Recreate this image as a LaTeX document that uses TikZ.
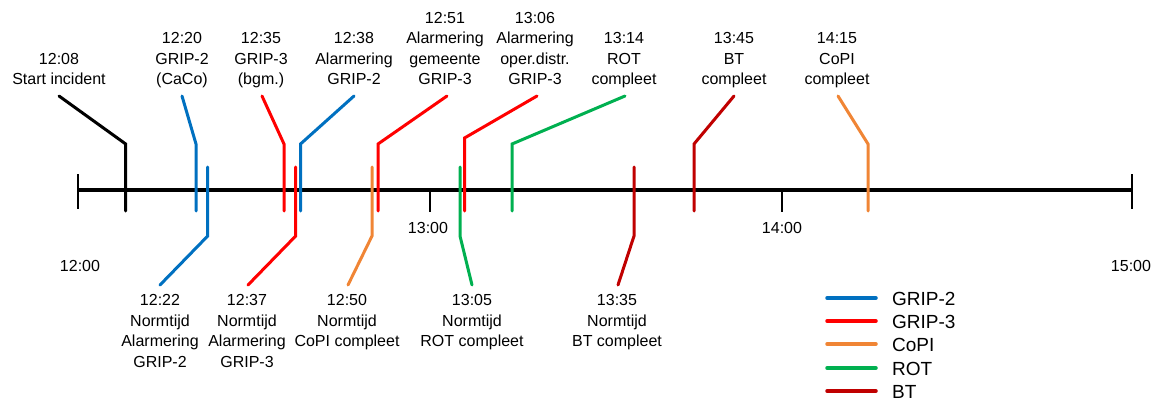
\documentclass[tikz,border=0pt]{standalone}
\usepackage{fontspec}
\setmainfont{Liberation Sans}
\definecolor{cblue}{HTML}{0070C0}
\definecolor{cred}{HTML}{FF0000}
\definecolor{corange}{HTML}{F08535}
\definecolor{cgreen}{HTML}{00B050}
\definecolor{cdark}{HTML}{C00000}
\begin{document}
\begin{tikzpicture}[x=1pt,y=-1pt,
  ev/.style={line width=3pt,line cap=round},
  lab/.style={align=center,inner sep=0pt,font=\fontsize{16}{20.5}\selectfont},
  up/.style={lab,anchor=south},
  dn/.style={lab,anchor=north},
  axlab/.style={inner sep=0pt,anchor=base,font=\fontsize{16}{20}\selectfont},
  leg/.style={inner sep=0pt,anchor=base west,font=\fontsize{19}{22}\selectfont},
  legline/.style={line width=3.5pt,line cap=round},
  thintick/.style={line width=1.5pt}]
\useasboundingbox (0,0) rectangle (1155,401);

% axis
\coordinate (a0) at (78,190);
\coordinate (a3) at (1132,190);
\coordinate (a0t) at (78,174);  \coordinate (a0b) at (78,209);
\coordinate (a3t) at (1132,174); \coordinate (a3b) at (1132,209);
\coordinate (a1) at (430,190); \coordinate (a1b) at (430,212);
\coordinate (a2) at (782,190); \coordinate (a2b) at (782,212);
\draw[line width=3.5pt] (a0) -- (a3);
\draw[thintick] (a0t) -- (a0b);
\draw[thintick] (a3t) -- (a3b);
\draw[thintick] (a1) -- (a1b);
\draw[thintick] (a2) -- (a2b);
\node[axlab] (t12) at (80,271) {12:00};
\node[axlab] (t13) at (428,233) {13:00};
\node[axlab] (t14) at (782,233) {14:00};
\node[axlab] (t15) at (1131,271) {15:00};

% upper labels
\node[up] (l08) at (59,91) {12:08\\Start incident\strut};
\node[up] (l20) at (182,91) {12:20\\GRIP-2\\(CaCo)\strut};
\node[up] (l35) at (261,91) {12:35\\GRIP-3\\(bgm.)\strut};
\node[up] (l38) at (354,91) {12:38\\Alarmering\\GRIP-2\strut};
\node[up] (l51) at (445,91) {12:51\\Alarmering\\gemeente\\GRIP-3\strut};
\node[up] (l06) at (535,91) {13:06\\Alarmering\\oper.distr.\\GRIP-3\strut};
\node[up] (l14) at (624,91) {13:14\\ROT\\compleet\strut};
\node[up] (l45) at (734,91) {13:45\\BT\\compleet\strut};
\node[up] (l15) at (837,91) {14:15\\CoPI\\compleet\strut};

% lower labels
\node[dn] (l22) at (160,291) {\strut 12:22\\Normtijd\\Alarmering\\GRIP-2};
\node[dn] (l37) at (247,291) {\strut 12:37\\Normtijd\\Alarmering\\GRIP-3};
\node[dn] (l50) at (347,291) {\strut 12:50\\Normtijd\\CoPI compleet};
\node[dn] (l05) at (472,291) {\strut 13:05\\Normtijd\\ROT compleet};
\node[dn] (l35b) at (617,291) {\strut 13:35\\Normtijd\\BT compleet};

% event coordinates (upper)
\coordinate (b08) at (125.7,211); \coordinate (k08) at (125.7,144); \coordinate (e08) at ([yshift=-5pt]l08.south);
\coordinate (b20) at (196,211);   \coordinate (k20) at (196,144);   \coordinate (e20) at ([yshift=-5pt]l20.south);
\coordinate (b35) at (284,211);   \coordinate (k35) at (284,144);   \coordinate (e35) at ([yshift=-5pt,xshift=1pt]l35.south);
\coordinate (b38) at (300.5,211); \coordinate (k38) at (300.5,144); \coordinate (e38) at ([yshift=-5pt]l38.south);
\coordinate (b51) at (378,211);   \coordinate (k51) at (378,144);   \coordinate (e51) at ([yshift=-5pt,xshift=2pt]l51.south);
\coordinate (b06) at (464.5,211); \coordinate (k06) at (464.5,138); \coordinate (e06) at ([yshift=-5pt,xshift=2pt]l06.south);
\coordinate (b14) at (512,211);   \coordinate (k14) at (512,144);   \coordinate (e14) at ([yshift=-5pt,xshift=1pt]l14.south);
\coordinate (b45) at (694,211);   \coordinate (k45) at (694,144);   \coordinate (e45) at ([yshift=-5pt]l45.south);
\coordinate (b15) at (868,211);   \coordinate (k15) at (868,144);   \coordinate (e15) at ([yshift=-5pt,xshift=1pt]l15.south);

% event coordinates (lower)
\coordinate (b22) at (207.7,167); \coordinate (k22) at (207.7,236); \coordinate (e22) at ([yshift=6pt]l22.north);
\coordinate (b37) at (295.7,167); \coordinate (k37) at (295.7,236); \coordinate (e37) at ([yshift=6pt,xshift=1pt]l37.north);
\coordinate (b50) at (372,167);   \coordinate (k50) at (372,236);   \coordinate (e50) at ([yshift=6pt,xshift=1pt]l50.north);
\coordinate (b05) at (460,167);   \coordinate (k05) at (460,236);   \coordinate (e05) at ([yshift=6pt]l05.north);
\coordinate (b35b) at (634,167);  \coordinate (k35b) at (634,236);  \coordinate (e35b) at ([yshift=6pt,xshift=1pt]l35b.north);

% events in time order
\draw[ev,black]   (b08) -- (k08) -- (e08);
\draw[ev,cblue]   (b20) -- (k20) -- (e20);
\draw[ev,cblue]   (b22) -- (k22) -- (e22);
\draw[ev,cred]    (b35) -- (k35) -- (e35);
\draw[ev,cred]    (b37) -- (k37) -- (e37);
\draw[ev,cblue]   (b38) -- (k38) -- (e38);
\draw[ev,corange] (b50) -- (k50) -- (e50);
\draw[ev,cred]    (b51) -- (k51) -- (e51);
\draw[ev,cgreen]  (b05) -- (k05) -- (e05);
\draw[ev,cred]    (b06) -- (k06) -- (e06);
\draw[ev,cgreen]  (b14) -- (k14) -- (e14);
\draw[ev,cdark]   (b35b) -- (k35b) -- (e35b);
\draw[ev,cdark]   (b45) -- (k45) -- (e45);
\draw[ev,corange] (b15) -- (k15) -- (e15);

% legend
\node[leg] (g1) at (892,305) {GRIP-2};
\node[leg] (g2) at (892,328) {GRIP-3};
\node[leg] (g3) at (892,351) {CoPI};
\node[leg] (g4) at (892,375) {ROT};
\node[leg] (g5) at (892,398) {BT};
\coordinate (g1a) at (827,298); \coordinate (g1b) at (876,298);
\coordinate (g2a) at (827,321); \coordinate (g2b) at (876,321);
\coordinate (g3a) at (827,344); \coordinate (g3b) at (876,344);
\coordinate (g4a) at (827,368); \coordinate (g4b) at (876,368);
\coordinate (g5a) at (827,391); \coordinate (g5b) at (876,391);
\draw[legline,cblue]   (g1a) -- (g1b);
\draw[legline,cred]    (g2a) -- (g2b);
\draw[legline,corange] (g3a) -- (g3b);
\draw[legline,cgreen]  (g4a) -- (g4b);
\draw[legline,cdark]   (g5a) -- (g5b);
\end{tikzpicture}
\end{document}
